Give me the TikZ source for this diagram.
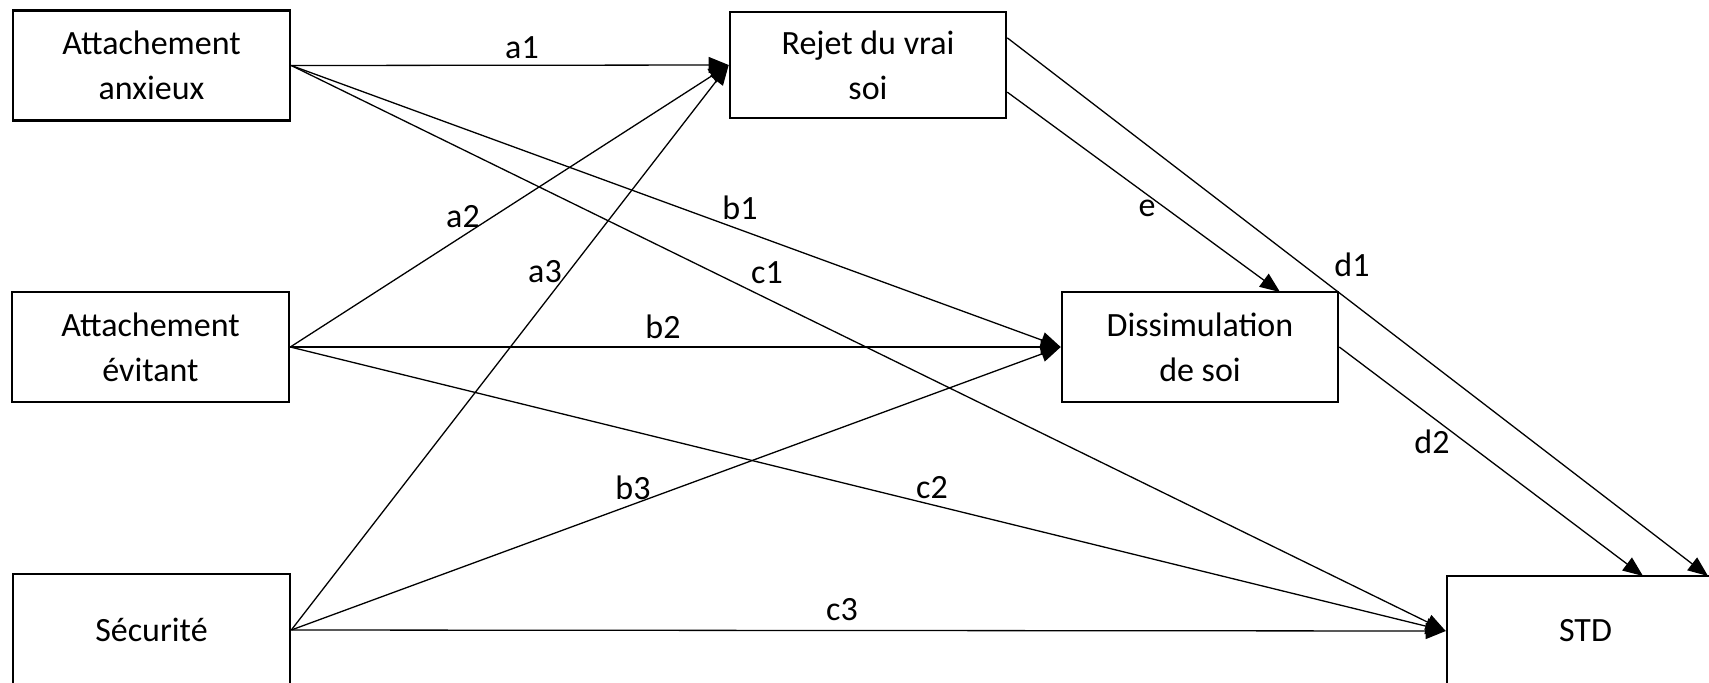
\documentclass[tikz,border=0pt]{standalone}
\usepackage{fontspec}
\setmainfont{Carlito}
\usetikzlibrary{arrows.meta,calc}
\tikzset{
  box/.style={draw, line width=1.3pt, inner sep=0pt, align=center, minimum width=138.5pt, minimum height=55pt, font=\fontsize{17}{22.5}\selectfont},
  lbl/.style={inner sep=0pt, font=\fontsize{17}{20}\selectfont},
  conn/.style={line width=0.65pt, -{Triangle[length=10pt,width=8pt]}}
}
\begin{document}
\begin{tikzpicture}[x=0.5pt,y=-0.5pt]
\useasboundingbox (0,0) rectangle (1709,682);
\node[box] (an) at (151.5,65.5) {Attachement\\anxieux};
\node[box, minimum height=55pt] (ev) at (150.5,347) {Attachement\\évitant};
\node[box, minimum height=56pt] (sec) at (151.5,630) {Sécurité};
\node[box, minimum width=138pt, minimum height=53pt] (rej) at (868,65) {Rejet du vrai\\soi};
\node[box, minimum width=138pt] (dis) at (1200,347) {Dissimulation\\de soi};
\node[box, minimum height=55pt] (std) at (1585.5,631) {STD};
\coordinate (d1s) at ($(rej.north east)!0.25!(rej.south east)$);
\coordinate (es) at ($(rej.north east)!0.75!(rej.south east)$);
\coordinate (ee) at (1280,292);
\coordinate (d1e) at (1708,576);
\coordinate (d2e) at (1643,576);
\draw[conn] (an.east) -- (rej.west);
\draw[conn] (an.east) -- (dis.west);
\draw[conn] (an.east) -- (std.west);
\draw[conn] (ev.east) -- (rej.west);
\draw[conn] (ev.east) -- (dis.west);
\draw[conn] (ev.east) -- (std.west);
\draw[conn] (sec.east) -- (rej.west);
\draw[conn] (sec.east) -- (dis.west);
\draw[conn] (sec.east) -- (std.west);
\draw[conn] (es) -- (ee);
\draw[conn] (d1s) -- (d1e);
\draw[conn] (dis.east) -- (d2e);
\node[lbl] (la1) at (522,48) {a1};
\node[lbl] (la2) at (463,217) {a2};
\node[lbl] (la3) at (545,272) {a3};
\node[lbl] (lb1) at (740,208) {b1};
\node[lbl] (lb2) at (663,327) {b2};
\node[lbl] (lb3) at (633,488) {b3};
\node[lbl] (lc1) at (767,273) {c1};
\node[lbl] (lc2) at (932,488) {c2};
\node[lbl] (lc3) at (842,610) {c3};
\node[lbl] (le) at (1147,208) {e};
\node[lbl] (ld1) at (1352,265) {d1};
\node[lbl] (ld2) at (1432,442) {d2};
\end{tikzpicture}
\end{document}
